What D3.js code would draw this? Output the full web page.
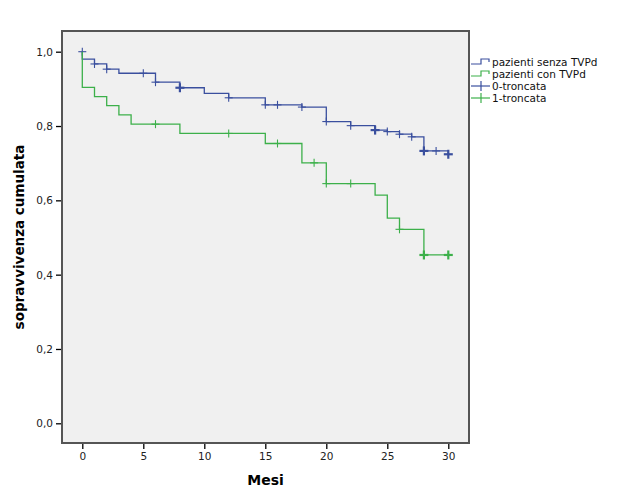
<!DOCTYPE html>
<html><head><meta charset="utf-8">
<script src="https://cdn.jsdelivr.net/npm/d3@7"></script>
<style>body{margin:0;background:#fff}svg{display:block}text{font-family:"DejaVu Sans",sans-serif}</style>
</head><body><svg id="c" width="626" height="501"></svg>
<script>
// Data
const blueTimes = [0, 0, 1, 2, 3, 6, 8, 10, 12, 15, 18, 20, 22, 24, 25, 26, 27, 28, 30];
const blueSurv  = [1.0, 0.980, 0.967, 0.953, 0.942, 0.918, 0.903, 0.888, 0.876, 0.857, 0.851, 0.812, 0.801, 0.789, 0.785, 0.778, 0.771, 0.733, 0.724];
const blueCensT = [0, 1, 2, 5, 6, 8, 12, 15, 16, 18, 20, 22, 24, 25, 26, 27, 28, 29, 30];
const blueCensS = [1.0, 0.967, 0.953, 0.942, 0.918, 0.903, 0.876, 0.857, 0.857, 0.851, 0.812, 0.801, 0.789, 0.785, 0.778, 0.771, 0.733, 0.733, 0.724];
const blueCensBold = [0, 0, 0, 0, 0, 1, 0, 0, 0, 0, 0, 0, 1, 0, 0, 0, 1, 0, 1];

const greenTimes = [0, 0, 1, 2, 3, 4, 8, 15, 18, 20, 24, 25, 26, 28, 30];
const greenSurv  = [1.0, 0.904, 0.879, 0.855, 0.830, 0.805, 0.780, 0.753, 0.701, 0.645, 0.614, 0.552, 0.522, 0.453, 0.453];
const greenCensT = [6, 12, 16, 19, 20, 22, 26, 28, 30];
const greenCensS = [0.805, 0.780, 0.753, 0.701, 0.645, 0.645, 0.522, 0.453, 0.453];
const greenCensBold = [0, 0, 0, 0, 0, 0, 0, 1, 1];

const xTicks = [0, 5, 10, 15, 20, 25, 30];
const yTicks = [0, 0.2, 0.4, 0.6, 0.8, 1.0];
const legendLabels = ["pazienti senza TVPd", "pazienti con TVPd", "0-troncata", "1-troncata"];

const BLUE = "#3a4f9e", GREEN = "#3cb04a";

const svg = d3.select("#c");
const L = 62, R = 469, T = 31, B = 443;
const x = d3.scaleLinear().domain([0, 30]).range([82.3, 448.3]);
const y = d3.scaleLinear().domain([0, 1]).range([423.3, 51.7]);

svg.append("rect").attr("x", L).attr("y", T).attr("width", R - L).attr("height", B - T)
  .attr("fill", "#f0f0f0");

function stepPath(ts, ss) {
  let d = "M" + x(ts[0]) + "," + y(ss[0]);
  for (let i = 1; i < ts.length; i++) {
    d += "H" + x(ts[i]) + "V" + y(ss[i]);
  }
  return d;
}
function drawGroup(ts, ss, ct, cs, cb, color) {
  svg.append("path").attr("d", stepPath(ts, ss)).attr("fill", "none")
    .attr("stroke", color).attr("stroke-width", 1.3);
  const g = svg.append("g");
  ct.forEach((t, i) => {
    const cx = x(t), cy = y(cs[i]), w = cb[i] ? 2.2 : 1.1, s = cb[i] ? 4.5 : 4;
    g.append("line").attr("x1", cx - s).attr("x2", cx + s).attr("y1", cy).attr("y2", cy)
      .attr("stroke", color).attr("stroke-width", w);
    g.append("line").attr("x1", cx).attr("x2", cx).attr("y1", cy - s).attr("y2", cy + s)
      .attr("stroke", color).attr("stroke-width", w);
  });
}
drawGroup(blueTimes, blueSurv, blueCensT, blueCensS, blueCensBold, BLUE);
drawGroup(greenTimes, greenSurv, greenCensT, greenCensS, greenCensBold, GREEN);

// frame
svg.append("rect").attr("x", L).attr("y", T).attr("width", R - L).attr("height", B - T)
  .attr("fill", "none").attr("stroke", "#555").attr("stroke-width", 2);

// axes
const yAxis = d3.axisLeft(y).tickValues(yTicks).tickSize(5).tickPadding(3)
  .tickFormat(d => d3.format(".1f")(d).replace(".", ","));
const ga = svg.append("g").attr("transform", `translate(${L - 1},0)`).call(yAxis);
ga.select(".domain").remove();
ga.selectAll("line").attr("stroke", "#000").attr("stroke-width", 1.3);
ga.selectAll("text").attr("font-size", 10.5).attr("fill", "#222");

const xAxis = d3.axisBottom(x).tickValues(xTicks).tickSize(5).tickPadding(4);
const gx = svg.append("g").attr("transform", `translate(0,${B + 1})`).call(xAxis);
gx.select(".domain").remove();
gx.selectAll("line").attr("stroke", "#000").attr("stroke-width", 1.3);
gx.selectAll("text").attr("font-size", 10.5).attr("fill", "#222");

svg.append("text").attr("x", (L + R) / 2).attr("y", 485).attr("text-anchor", "middle")
  .attr("font-weight", "bold").attr("font-size", 14).text("Mesi");
svg.append("text").attr("transform", `translate(24,${(T + B) / 2}) rotate(-90)`)
  .attr("text-anchor", "middle").attr("font-weight", "bold").attr("font-size", 13.5)
  .text("sopravvivenza cumulata");

// legend
const ly = [62, 74, 86, 98];
const lc = [BLUE, GREEN, BLUE, GREEN];
legendLabels.forEach((lab, i) => {
  const cy = ly[i];
  if (i < 2) {
    svg.append("path").attr("d", `M471,${cy + 2}H481V${cy - 3}H489V${cy}`)
      .attr("fill", "none").attr("stroke", lc[i]).attr("stroke-width", 1.2);
  } else {
    svg.append("line").attr("x1", 471).attr("x2", 490).attr("y1", cy).attr("y2", cy)
      .attr("stroke", lc[i]).attr("stroke-width", 1.2);
    svg.append("line").attr("x1", 481).attr("x2", 481).attr("y1", cy - 5).attr("y2", cy + 5)
      .attr("stroke", lc[i]).attr("stroke-width", 1.2);
  }
  svg.append("text").attr("x", 492).attr("y", cy).attr("dy", "0.35em")
    .attr("font-size", 10.5).attr("fill", "#111").text(lab);
});
</script></body></html>
